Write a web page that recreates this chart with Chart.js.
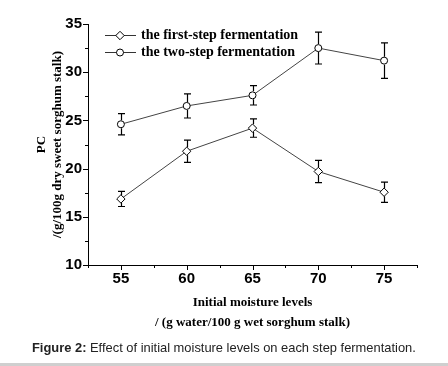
<!DOCTYPE html>
<html>
<head>
<meta charset="utf-8">
<script src="https://cdn.jsdelivr.net/npm/chart.js@4"></script>
<style>
  html, body { margin: 0; padding: 0; background: #fff; }
  #wrap { position: relative; width: 448px; height: 366px; overflow: hidden; }
  canvas { position: absolute; left: 0; top: 0; }
  #cap { position: absolute; left: 32px; top: 340px; font: 12.9px "Liberation Sans", Arial, sans-serif; color: #222; white-space: nowrap; }
  #cap b { font-weight: bold; }
  #rule { position: absolute; left: 0; top: 363px; width: 448px; height: 3px; background: #cfcfcf; }
</style>
</head>
<body>
<div id="wrap">
  <canvas id="c" width="448" height="366"></canvas>
  <div id="cap"><b>Figure 2:</b> Effect of initial moisture levels on each step fermentation.</div>
  <div id="rule"></div>
</div>
<script>
const moisture = [55, 60, 65, 70, 75];
const firstStep = [16.85, 21.8, 24.2, 19.7, 17.55];
const firstStepErr = [0.78, 1.15, 0.95, 1.15, 1.05];
const twoStep = [24.6, 26.5, 27.6, 32.5, 31.2];
const twoStepErr = [1.1, 1.25, 1.0, 1.65, 1.85];
const xTicks = [55, 60, 65, 70, 75];
const yTicks = [10, 15, 20, 25, 30, 35];
const seriesNames = ['the first-step fermentation', 'the two-step fermentation'];

const serif = '"Liberation Serif", "Times New Roman", serif';
const sans = '"Liberation Sans", Arial, sans-serif';

const errorBars = {
  id: 'errorBars',
  afterDatasetsDraw(chart) {
    const ctx = chart.ctx;
    const xs = chart.scales.x, ys = chart.scales.y;
    ctx.save();
    ctx.strokeStyle = '#000';
    ctx.lineWidth = 1.2;
    chart.data.datasets.forEach(ds => {
      ds.data.forEach((p, i) => {
        const e = ds.errors[i];
        const px = Math.round(xs.getPixelForValue(p.x)) + 0.5;
        const top = ys.getPixelForValue(p.y + e);
        const bot = ys.getPixelForValue(p.y - e);
        const cy = ys.getPixelForValue(p.y);
        const r = 4;
        ctx.beginPath();
        ctx.moveTo(px, top); ctx.lineTo(px, cy - r);
        ctx.moveTo(px, cy + r); ctx.lineTo(px, bot);
        ctx.moveTo(px - 3.5, top); ctx.lineTo(px + 3.5, top);
        ctx.moveTo(px - 3.5, bot); ctx.lineTo(px + 3.5, bot);
        ctx.stroke();
      });
    });
    ctx.restore();
  }
};

const tickMarks = {
  id: 'tickMarks',
  afterDraw(chart) {
    const ctx = chart.ctx;
    const xs = chart.scales.x, ys = chart.scales.y;
    const a = chart.chartArea;
    ctx.save();
    ctx.strokeStyle = '#000';
    ctx.lineWidth = 1;
    ctx.beginPath();
    for (let v = 52.5; v <= 77.5001; v += 2.5) {
      const px = Math.round(xs.getPixelForValue(v)) + 0.5;
      const len = (v % 5 === 0) ? 5 : 3;
      ctx.moveTo(px, a.bottom); ctx.lineTo(px, a.bottom + len);
    }
    for (let v = 10; v <= 35.001; v += 2.5) {
      const py = Math.round(ys.getPixelForValue(v)) + 0.5;
      const len = (v % 5 === 0) ? 5 : 3;
      ctx.moveTo(a.left, py); ctx.lineTo(a.left - len, py);
    }
    ctx.stroke();
    ctx.restore();
  }
};

const legendBox = {
  id: 'legendBox',
  afterDraw(chart) {
    const ctx = chart.ctx;
    const rows = [
      { y: 35, style: 'rectRot', r: 4.2 },
      { y: 52, style: 'circle', r: 3.5 }
    ];
    ctx.save();
    rows.forEach((row, i) => {
      ctx.strokeStyle = '#333';
      ctx.lineWidth = 1;
      ctx.beginPath();
      ctx.moveTo(105, row.y + 0.5); ctx.lineTo(136, row.y + 0.5);
      ctx.stroke();
      ctx.fillStyle = '#fff';
      ctx.strokeStyle = '#000';
      Chart.helpers.drawPoint(ctx, { pointStyle: row.style, radius: row.r, borderWidth: 1 }, 120, row.y + 0.5);
      ctx.fillStyle = '#000';
      ctx.font = 'bold 14px ' + serif;
      ctx.textBaseline = 'middle';
      ctx.textAlign = 'left';
      ctx.fillText(seriesNames[i], 141, row.y);
    });
    ctx.restore();
  }
};

const mk = (vals) => moisture.map((m, i) => ({ x: m, y: vals[i] }));

new Chart(document.getElementById('c'), {
  type: 'line',
  data: {
    datasets: [
      {
        label: seriesNames[0], data: mk(firstStep), errors: firstStepErr,
        borderColor: '#444', borderWidth: 1, pointStyle: 'rectRot', pointRadius: 4.2,
        pointBackgroundColor: '#fff', pointBorderColor: '#000', pointBorderWidth: 1, tension: 0
      },
      {
        label: seriesNames[1], data: mk(twoStep), errors: twoStepErr,
        borderColor: '#444', borderWidth: 1, pointStyle: 'circle', pointRadius: 3.5,
        pointBackgroundColor: '#fff', pointBorderColor: '#000', pointBorderWidth: 1, tension: 0
      }
    ]
  },
  options: {
    responsive: false,
    animation: false,
    events: [],
    layout: { padding: { left: 0, top: 24, right: 31, bottom: 31 } },
    plugins: { legend: { display: false }, tooltip: { enabled: false } },
    scales: {
      x: {
        type: 'linear', min: 52.5, max: 77.5,
        afterBuildTicks: s => { s.ticks = xTicks.map(v => ({ value: v })); },
        afterFit: s => { s.height = 70; },
        grid: { display: false, drawTicks: false },
        border: { display: true, color: '#000', width: 1 },
        ticks: { color: '#000', padding: 5, maxRotation: 0, font: { family: sans, size: 15, weight: 'bold' } },
        title: {
          display: true,
          text: ['Initial moisture levels', '/ (g water/100 g wet sorghum stalk)'],
          color: '#000', padding: { top: 0, bottom: 3 },
          font: { family: serif, size: 13, weight: 'bold', lineHeight: 1.5 }
        }
      },
      y: {
        type: 'linear', min: 10, max: 35,
        afterBuildTicks: s => { s.ticks = yTicks.map(v => ({ value: v })); },
        afterFit: s => { s.width = 88; },
        grid: { display: false, drawTicks: false },
        border: { display: true, color: '#000', width: 1 },
        ticks: { color: '#000', padding: 6, font: { family: sans, size: 15, weight: 'bold' } },
        title: {
          display: true,
          text: ['PC', '/(g/100g dry sweet sorghum stalk)'],
          color: '#000', padding: { top: 34, bottom: 0 },
          font: { family: serif, size: 13, weight: 'bold', lineHeight: 1.2 }
        }
      }
    }
  },
  plugins: [errorBars, tickMarks, legendBox]
});
</script>
</body>
</html>
